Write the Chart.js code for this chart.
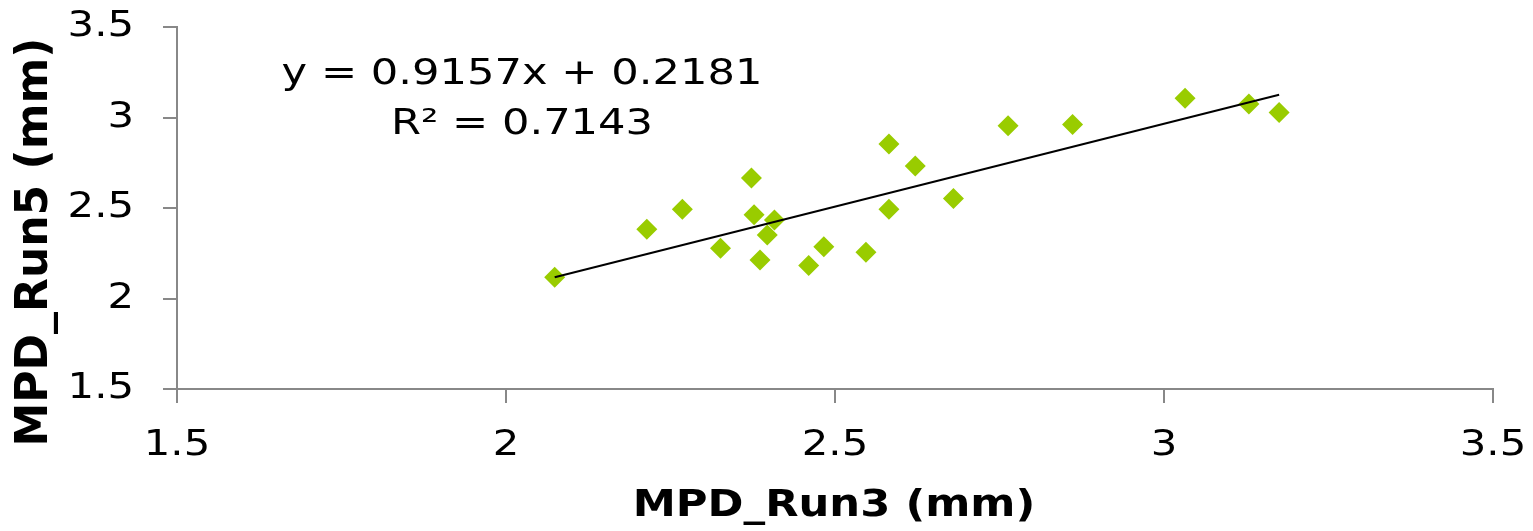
<!DOCTYPE html>
<html>
<head>
<meta charset="utf-8">
<script src="https://cdn.jsdelivr.net/npm/chart.js@4"></script>
<style>
  html, body { margin: 0; padding: 0; background: #fff; }
  #wrap { width: 1533px; height: 531px; }
</style>
</head>
<body>
<div id="wrap"><canvas id="scatterChart" width="1533" height="531"></canvas></div>
<script>
// MPD values
const run3 = [2.074, 2.214, 2.268, 2.326, 2.373, 2.377, 2.386, 2.397, 2.408, 2.460, 2.483,
              2.547, 2.582, 2.582, 2.622, 2.680, 2.763, 2.861, 3.032, 3.129, 3.175];
const run5 = [2.117, 2.382, 2.493, 2.277, 2.666, 2.463, 2.213, 2.351, 2.434, 2.183, 2.286,
              2.255, 2.854, 2.493, 2.732, 2.552, 2.955, 2.962, 3.106, 3.075, 3.027];
// trendline ends (y = 0.9157x + 0.2181)
const trendX = [2.074, 3.175];
const trendY = [2.117, 3.126];
const xTicks = [1.5, 2, 2.5, 3, 3.5];
const yTicks = [1.5, 2, 2.5, 3, 3.5];
const eqLines = ['y = 0.9157x + 0.2181', 'R\u00b2 = 0.7143'];
const xTitle = 'MPD_Run3 (mm)';
const yTitle = 'MPD_Run5 (mm)';

const FONT = '"DejaVu Sans", Verdana, sans-serif';
const axisGrey = '#888888';

const points = run3.map((x, i) => ({ x: x, y: run5[i] }));
const trend = trendX.map((x, i) => ({ x: x, y: trendY[i] }));

// text in the picture is a bit wider than the font, so draw it stretched
function wideText(ctx, text, x, y, font, sx, align) {
    ctx.save();
    ctx.font = font;
    ctx.fillStyle = '#000';
    ctx.textAlign = align;
    ctx.textBaseline = 'middle';
    ctx.translate(x, y);
    ctx.scale(sx, 1);
    ctx.fillText(text, 0, 0);
    ctx.restore();
}

const textPlugin = {
    id: 'extraText',
    afterDraw(chart) {
        const ctx = chart.ctx;
        const xs = chart.scales.x, ys = chart.scales.y;
        const tickFont = '36px ' + FONT;

        // tick labels
        xTicks.forEach(v => wideText(ctx, String(v), xs.getPixelForValue(v), 446, tickFont, 1.16, 'center'));
        yTicks.forEach(v => wideText(ctx, String(v), 134, ys.getPixelForValue(v), tickFont, 1.16, 'right'));

        // equation
        wideText(ctx, eqLines[0], 522, 75, tickFont, 1.2, 'center');
        wideText(ctx, eqLines[1], 522, 125, tickFont, 1.2, 'center');

        // axis titles
        wideText(ctx, xTitle, 834, 506, 'bold 38px ' + FONT, 1.14, 'center');
        ctx.save();
        ctx.font = 'bold 44px ' + FONT;
        ctx.fillStyle = '#000';
        ctx.textAlign = 'center';
        ctx.textBaseline = 'middle';
        ctx.translate(36, 242);
        ctx.rotate(-Math.PI / 2);
        ctx.fillText(yTitle, 0, 0);
        ctx.restore();
    }
};

new Chart(document.getElementById('scatterChart'), {
    type: 'scatter',
    data: {
        datasets: [
            {
                label: 'MPD',
                data: points,
                pointStyle: 'rectRot',
                pointRadius: 10.5,
                pointHoverRadius: 10.5,
                backgroundColor: '#99cc00',
                borderColor: '#99cc00',
                borderWidth: 0,
                order: 2
            },
            {
                label: 'Linear',
                type: 'line',
                data: trend,
                borderColor: '#000',
                borderWidth: 2,
                pointRadius: 0,
                fill: false,
                order: 1
            }
        ]
    },
    options: {
        responsive: false,
        animation: false,
        layout: { padding: { top: 27, right: 40, left: 0, bottom: 0 } },
        plugins: {
            legend: { display: false },
            tooltip: { enabled: false }
        },
        scales: {
            x: {
                type: 'linear',
                min: 1.5, max: 3.5,
                afterBuildTicks: s => { s.ticks = xTicks.map(v => ({ value: v })); },
                afterFit: s => { s.height = 142; s.paddingLeft = 0; s.paddingRight = 0; },
                grid: { display: true, drawOnChartArea: false, drawTicks: true, tickLength: 14, color: axisGrey, lineWidth: 2 },
                border: { color: axisGrey, width: 2 },
                ticks: { display: false },
                title: { display: false }
            },
            y: {
                type: 'linear',
                min: 1.5, max: 3.5,
                afterBuildTicks: s => { s.ticks = yTicks.map(v => ({ value: v })); },
                afterFit: s => { s.width = 177; s.paddingTop = 0; s.paddingBottom = 0; },
                grid: { display: true, drawOnChartArea: false, drawTicks: true, tickLength: 14, color: axisGrey, lineWidth: 2 },
                border: { color: axisGrey, width: 2 },
                ticks: { display: false },
                title: { display: false }
            }
        }
    },
    plugins: [textPlugin]
});
</script>
</body>
</html>
